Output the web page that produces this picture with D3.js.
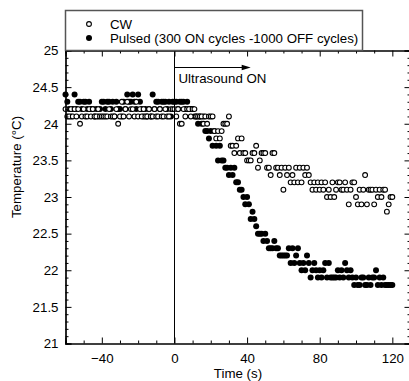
<!DOCTYPE html>
<html>
<head>
<meta charset="utf-8">
<script src="https://cdn.jsdelivr.net/npm/d3@7"></script>
<style>
  body { margin: 0; background: #fff; }
  svg { display: block; font-family: "Liberation Sans", Arial, sans-serif; }
</style>
</head>
<body>
<svg id="canvas"></svg>
<script>
// logger samples every 1 s, from -60 s to 120 s
const times = d3.range(-60, 121);

const cwBefore = [
  24.2, 24.1, 24.1, 24.2, 24.1, 24.2, 24.1, 24.2, 24.0, 24.1,
  24.2, 24.1, 24.1, 24.2, 24.1, 24.2, 24.1, 24.1, 24.2, 24.1,
  24.1, 24.1, 24.1, 24.1, 24.2, 24.1, 24.1, 24.1, 24.2, 24.0,
  24.1, 24.3, 24.1, 24.2, 24.3, 24.1, 24.2, 24.2, 24.1, 24.3,
  24.1, 24.2, 24.1, 24.2, 24.1, 24.1, 24.2, 24.1, 24.1, 24.2,
  24.1, 24.1, 24.2, 24.1, 24.1, 24.2, 24.1, 24.1, 24.2, 24.2,
];
const cwAfter = [
  24.2, 24.1, 24.2, 24.0, 24.0, 24.2, 24.1, 24.2, 24.2, 24.1,
  24.2, 24.2, 24.1, 24.1, 24.1, 24.1, 24.0, 24.1, 24.0, 24.1,
  24.1, 24.1, 23.9, 23.8, 23.9, 23.8, 23.9, 24.0, 24.0, 24.0,
  24.1, 23.7, 23.7, 23.6, 23.7, 23.8, 23.6, 23.8, 23.6, 23.6,
  23.5, 23.5, 23.5, 23.6, 23.6, 23.7, 23.4, 23.5, 23.6, 23.6,
  23.6, 23.4, 23.4, 23.3, 23.6, 23.6, 23.4, 23.4, 23.3, 23.4,
  23.1, 23.4, 23.3, 23.4, 23.2, 23.3, 23.2, 23.4, 23.2, 23.4,
  23.2, 23.4, 23.3, 23.4, 23.3, 23.2, 23.1, 23.2, 23.1, 23.2,
  23.1, 23.2, 23.1, 23.2, 23.0, 23.1, 23.0, 23.2, 23.0, 23.1,
  23.2, 23.2, 23.1, 23.1, 23.2, 23.1, 22.9, 23.1, 23.2, 23.2,
  23.0, 22.9, 23.1, 22.9, 23.1, 23.3, 22.9, 23.1, 23.1, 23.1,
  22.9, 23.1, 23.0, 23.1, 23.0, 23.1, 23.1, 22.8, 22.9, 23.0,
  23.0,
];

const pulsedBefore = [
  24.4, 24.3, 24.2, 24.1, 24.2, 24.4, 24.2, 24.3, 24.3, 24.2,
  24.3, 24.3, 24.2, 24.3, 24.2, 24.2, 24.1, 24.2, 24.1, 24.2,
  24.3, 24.3, 24.2, 24.3, 24.3, 24.2, 24.3, 24.1, 24.3, 24.2,
  24.2, 24.1, 24.3, 24.2, 24.4, 24.3, 24.3, 24.4, 24.3, 24.2,
  24.4, 24.3, 24.2, 24.1, 24.2, 24.1, 24.2, 24.1, 24.4, 24.2,
  24.3, 24.3, 24.2, 24.3, 24.3, 24.3, 24.2, 24.3, 24.1, 24.3,
];
const pulsedAfter = [
  24.3, 24.3, 24.2, 24.3, 24.3, 24.3, 24.2, 24.3, 24.2, 24.2,
  24.2, 24.1, 24.1, 24.0, 24.1, 24.0, 24.1, 23.9, 23.9, 23.8,
  23.9, 23.7, 23.9, 23.7, 23.5, 23.7, 23.5, 23.5, 23.4, 23.4,
  23.3, 23.4, 23.3, 23.4, 23.2, 23.2, 23.1, 23.1, 23.0, 22.9,
  23.0, 22.9, 22.7, 22.8, 22.7, 22.6, 22.5, 22.5, 22.5, 22.4,
  22.5, 22.4, 22.3, 22.3, 22.3, 22.4, 22.3, 22.3, 22.2, 22.2,
  22.2, 22.2, 22.2, 22.3, 22.1, 22.3, 22.1, 22.2, 22.3, 22.1,
  22.0, 22.1, 22.0, 22.2, 22.1, 21.9, 22.0, 22.1, 22.0, 21.9,
  22.0, 21.9, 22.0, 22.1, 21.9, 22.1, 21.9, 21.9, 21.9, 21.9,
  22.0, 21.9, 22.0, 21.9, 22.1, 22.0, 21.9, 22.0, 21.9, 21.8,
  21.9, 21.8, 21.8, 21.9, 21.9, 21.8, 21.8, 21.9, 21.8, 21.9,
  21.9, 22.0, 21.8, 21.9, 21.8, 21.9, 21.8, 21.8, 21.8, 21.8,
  21.8,
];

const xTicks = [-40, 0, 40, 80, 120];
const yTicks = [21, 21.5, 22, 22.5, 23, 23.5, 24, 24.5, 25];
const legendLabels = ["CW", "Pulsed (300 ON cycles -1000 OFF cycles)"];

const width = 409;
const height = 381;
const plotLeft = 65.5;
const plotRight = 410.5;
const plotTop = 50.5;
const plotBottom = 343.5;

const canvas = d3.select("#canvas").attr("width", width).attr("height", height);

const xScale = d3.scaleLinear().domain([-60, 130]).range([plotLeft, plotRight]);
const yScale = d3.scaleLinear().domain([21, 25]).range([plotBottom, plotTop]);

const cw = cwBefore.concat(cwAfter).map((v, i) => ({ t: times[i], v: v }));
const pulsed = pulsedBefore.concat(pulsedAfter).map((v, i) => ({ t: times[i], v: v }));

const xMinor = d3.range(-60, 131, 10).filter((d) => !xTicks.includes(d));
const yMinor = d3.range(21, 25.01, 0.1).filter((d) => Math.abs(d * 2 - Math.round(d * 2)) > 0.01);

const fontSize = "13.3px";

const drawAxes = () => {
  // minor ticks
  canvas.append("g").attr("transform", `translate(0, ${plotBottom})`)
    .call(d3.axisBottom(xScale).tickValues(xMinor).tickSize(-3).tickFormat(""));
  canvas.append("g").attr("transform", `translate(0, ${plotTop})`)
    .call(d3.axisTop(xScale).tickValues(xMinor).tickSize(-3).tickFormat(""));
  canvas.append("g").attr("transform", `translate(${plotLeft}, 0)`)
    .call(d3.axisLeft(yScale).tickValues(yMinor).tickSize(-3).tickFormat(""));
  canvas.append("g").attr("transform", `translate(${plotRight}, 0)`)
    .call(d3.axisRight(yScale).tickValues(yMinor).tickSize(-3).tickFormat(""));

  // major ticks
  canvas.append("g").attr("id", "x-axis").attr("transform", `translate(0, ${plotBottom})`)
    .call(d3.axisBottom(xScale).tickValues(xTicks).tickSize(-6).tickPadding(10).tickFormat(d3.format("d")));
  canvas.append("g").attr("transform", `translate(0, ${plotTop})`)
    .call(d3.axisTop(xScale).tickValues(xTicks).tickSize(-6).tickFormat(""));
  canvas.append("g").attr("id", "y-axis").attr("transform", `translate(${plotLeft}, 0)`)
    .call(d3.axisLeft(yScale).tickValues(yTicks).tickSize(-6).tickPadding(7).tickFormat((d) => d));
  canvas.append("g").attr("transform", `translate(${plotRight}, 0)`)
    .call(d3.axisRight(yScale).tickValues(yTicks).tickSize(-6).tickFormat(""));

  canvas.selectAll(".domain").attr("stroke", "#000").attr("stroke-width", 1.2);
  canvas.selectAll(".tick line").attr("stroke", "#000");
  canvas.selectAll(".tick text")
    .attr("font-family", "Liberation Sans, Arial, sans-serif")
    .attr("font-size", fontSize)
    .attr("fill", "#000");

  canvas.append("text")
    .attr("x", 238).attr("y", 377.5)
    .attr("text-anchor", "middle")
    .attr("font-size", fontSize)
    .text("Time (s)");

  canvas.append("text")
    .attr("transform", "translate(21, 167) rotate(-90)")
    .attr("text-anchor", "middle")
    .attr("font-size", fontSize)
    .text("Temperature (°C)");
};

const drawPoints = () => {
  canvas.append("g").selectAll("circle")
    .data(pulsed).enter().append("circle")
    .attr("cx", (d) => xScale(d.t))
    .attr("cy", (d) => yScale(d.v))
    .attr("r", 3)
    .attr("fill", "#000");

  canvas.append("g").selectAll("circle")
    .data(cw).enter().append("circle")
    .attr("cx", (d) => xScale(d.t))
    .attr("cy", (d) => yScale(d.v))
    .attr("r", 2.4)
    .attr("fill", "#fff")
    .attr("stroke", "#000")
    .attr("stroke-width", 1.1);
};

const drawAnnotation = () => {
  const x0 = Math.round(xScale(0)) + 0.5;
  canvas.append("line")
    .attr("x1", x0).attr("x2", x0)
    .attr("y1", plotTop).attr("y2", plotBottom)
    .attr("stroke", "#000");

  const ay = Math.round(yScale(24.78)) + 0.5;
  const tip = xScale(42);
  canvas.append("line")
    .attr("x1", x0).attr("x2", tip - 6)
    .attr("y1", ay).attr("y2", ay)
    .attr("stroke", "#000");
  canvas.append("path")
    .attr("d", `M${tip},${ay} L${tip - 9},${ay - 2.8} L${tip - 9},${ay + 2.8} Z`)
    .attr("fill", "#000");

  canvas.append("text")
    .attr("x", x0 + 4).attr("y", 83)
    .attr("font-size", fontSize)
    .text("Ultrasound ON");
};

const drawLegend = () => {
  canvas.append("rect")
    .attr("x", 65.5).attr("y", 10.5)
    .attr("width", 297).attr("height", 40)
    .attr("fill", "none")
    .attr("stroke", "#555")
    .attr("stroke-width", 1.5);

  const rows = canvas.append("g").selectAll("g")
    .data(legendLabels).enter().append("g")
    .attr("transform", (d, i) => `translate(89, ${24 + i * 14})`);

  rows.append("circle")
    .attr("r", (d, i) => (i === 0 ? 2.4 : 3))
    .attr("fill", (d, i) => (i === 0 ? "#fff" : "#000"))
    .attr("stroke", "#000")
    .attr("stroke-width", (d, i) => (i === 0 ? 1.1 : 0));

  rows.append("text")
    .attr("x", 21).attr("y", 4.5)
    .attr("font-size", fontSize)
    .text((d) => d);
};

drawPoints();
drawAnnotation();
drawAxes();
drawLegend();
</script>
</body>
</html>
